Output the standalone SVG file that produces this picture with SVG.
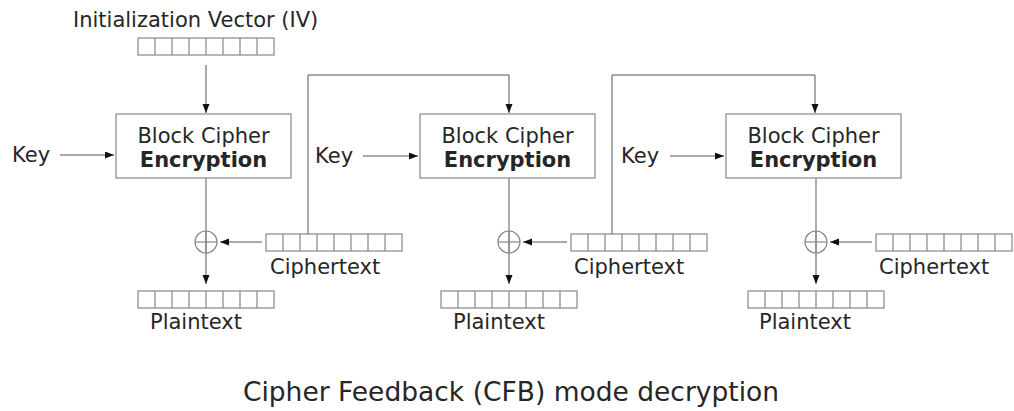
<svg xmlns="http://www.w3.org/2000/svg" xmlns:xlink="http://www.w3.org/1999/xlink" width="1014" height="411" viewBox="0 0 1014 411">
<style>
  text { font-family: "DejaVu Sans", "Liberation Sans", sans-serif; font-size: 21px; fill: #262626; }
  .b { font-weight: bold; }
  .title { font-size: 26.5px; }
  .box { fill: #fff; stroke: #888; stroke-width: 1.2; }
  .cell { fill: none; stroke: #888; stroke-width: 1.2; }
  .ln { fill: none; stroke: #777; stroke-width: 1.2; }
  .arr { fill: none; stroke: #555; stroke-width: 1; marker-end: url(#ah); }
  .xor { fill: none; stroke: #888; stroke-width: 1.2; }
</style>
<defs>
  <marker id="ah" markerUnits="userSpaceOnUse" markerWidth="10" markerHeight="8" refX="9" refY="3.5" orient="auto">
    <path d="M0,0 L9,3.5 L0,7 z" fill="#111"/>
  </marker>
  <g id="cells">
    <rect class="cell" x="0" y="0" width="136" height="17"/>
    <path class="cell" d="M17,0v17M34,0v17M51,0v17M68,0v17M85,0v17M102,0v17M119,0v17"/>
  </g>
</defs>

<g id="connectors">
  <line class="arr" x1="206" y1="65" x2="206" y2="113"/>
  <line class="arr" x1="60" y1="155" x2="114" y2="155"/>
  <line class="arr" x1="363" y1="156" x2="418" y2="156"/>
  <line class="arr" x1="670" y1="156" x2="724" y2="156"/>
  <line class="ln" x1="206" y1="178" x2="206" y2="231"/>
  <line class="arr" x1="206" y1="231" x2="206" y2="284"/>
  <line class="ln" x1="509" y1="178" x2="509" y2="231"/>
  <line class="arr" x1="509" y1="231" x2="509" y2="284"/>
  <line class="ln" x1="816" y1="178" x2="816" y2="231"/>
  <line class="arr" x1="816" y1="231" x2="816" y2="284"/>
  <line class="arr" x1="262" y1="242" x2="220" y2="242"/>
  <line class="arr" x1="567" y1="242" x2="523" y2="242"/>
  <line class="arr" x1="872" y1="242" x2="830" y2="242"/>
  <polyline class="arr" points="308,234 308,75 509,75 509,113"/>
  <polyline class="arr" points="612,234 612,75 815,75 815,113"/>
</g>

<g id="iv">
  <text x="73" y="27">Initialization Vector (IV)</text>
  <use xlink:href="#cells" x="138" y="38"/>
</g>

<g id="stage1">
  <text x="12" y="162">Key</text>
  <rect class="box" x="116" y="114" width="175" height="64"/>
  <text x="203.5" y="143" text-anchor="middle">Block Cipher</text>
  <text class="b" x="203.5" y="167" text-anchor="middle">Encryption</text>
  <circle class="xor" cx="206" cy="242" r="11"/>
  <line class="xor" x1="195" y1="242" x2="217" y2="242"/>
  <line class="xor" x1="206" y1="231" x2="206" y2="253"/>
  <use xlink:href="#cells" x="266" y="234"/>
  <text x="270" y="274">Ciphertext</text>
  <use xlink:href="#cells" x="138" y="291"/>
  <text x="150" y="329">Plaintext</text>
</g>

<g id="stage2">
  <text x="315" y="163">Key</text>
  <rect class="box" x="420" y="114" width="175" height="64"/>
  <text x="507.5" y="143" text-anchor="middle">Block Cipher</text>
  <text class="b" x="507.5" y="167" text-anchor="middle">Encryption</text>
  <circle class="xor" cx="509" cy="242" r="11"/>
  <line class="xor" x1="498" y1="242" x2="520" y2="242"/>
  <line class="xor" x1="509" y1="231" x2="509" y2="253"/>
  <use xlink:href="#cells" x="571" y="234"/>
  <text x="574" y="274">Ciphertext</text>
  <use xlink:href="#cells" x="441" y="291"/>
  <text x="453" y="329">Plaintext</text>
</g>

<g id="stage3">
  <text x="621" y="163">Key</text>
  <rect class="box" x="726" y="114" width="175" height="64"/>
  <text x="813.5" y="143" text-anchor="middle">Block Cipher</text>
  <text class="b" x="813.5" y="167" text-anchor="middle">Encryption</text>
  <circle class="xor" cx="816" cy="242" r="11"/>
  <line class="xor" x1="805" y1="242" x2="827" y2="242"/>
  <line class="xor" x1="816" y1="231" x2="816" y2="253"/>
  <use xlink:href="#cells" x="876" y="234"/>
  <text x="879" y="274">Ciphertext</text>
  <use xlink:href="#cells" x="748" y="291"/>
  <text x="759" y="329">Plaintext</text>
</g>

<g id="caption">
  <text class="title" x="511" y="401" text-anchor="middle">Cipher Feedback (CFB) mode decryption</text>
</g>
</svg>
